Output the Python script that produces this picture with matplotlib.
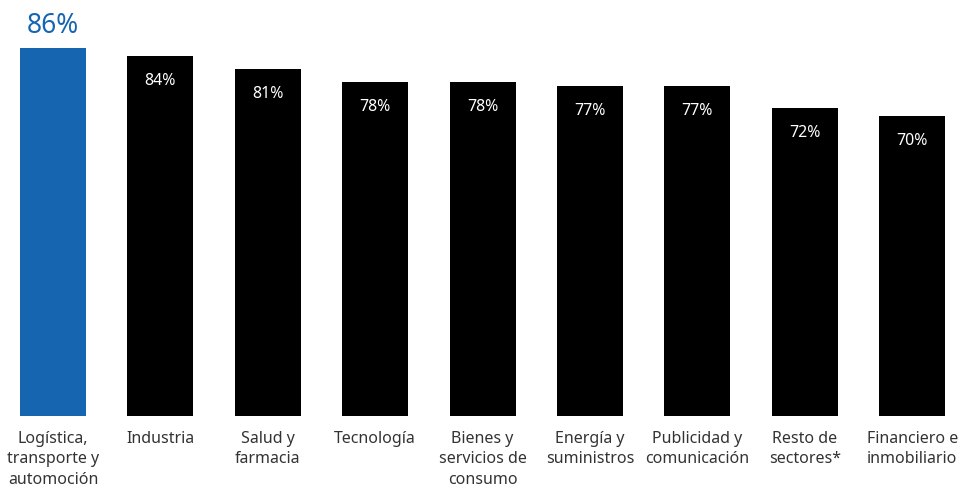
import matplotlib.pyplot as plt

# Porcentaje por sector
sectores = ['Logística,\ntransporte y\nautomoción', 'Industria', 'Salud y\nfarmacia',
            'Tecnología', 'Bienes y\nservicios de\nconsumo', 'Energía y\nsuministros',
            'Publicidad y\ncomunicación', 'Resto de\nsectores*', 'Financiero e\ninmobiliario']
valores = [86, 84, 81, 78, 78, 77, 77, 72, 70]

azul = '#1565b0'
plt.rcParams['font.family'] = ['Noto Sans', 'DejaVu Sans']

fig = plt.figure(figsize=(9.6, 4.9), dpi=100)
ax = fig.add_axes([0, 74 / 490, 1, 416 / 490])

x = list(range(len(valores)))
colores = [azul] + ['black'] * (len(valores) - 1)
ax.bar(x, valores, width=0.615, color=colores)

ax.set_xlim(-53 / 107.4, (960 - 53) / 107.4)
ax.set_ylim(0, 416 / 4.28)
ax.axis('off')

for i, v in enumerate(valores):
    if i == 0:
        ax.annotate(f'{v}%', (i, v), xytext=(0, 5.5), textcoords='offset points',
                    ha='center', va='bottom', color=azul, fontsize=19,
                    fontweight='light')
    else:
        ax.annotate(f'{v}%', (i, v), xytext=(0, -12), textcoords='offset points',
                    ha='center', va='top', color='white', fontsize=11.5,
                    fontweight='light')
    ax.annotate(sectores[i], (i, 0), xytext=(0, -11), textcoords='offset points',
                ha='center', va='top', color='#333333', fontsize=11.5,
                fontweight='light', linespacing=1.35, annotation_clip=False)

fig.savefig('out.png', dpi=100)
